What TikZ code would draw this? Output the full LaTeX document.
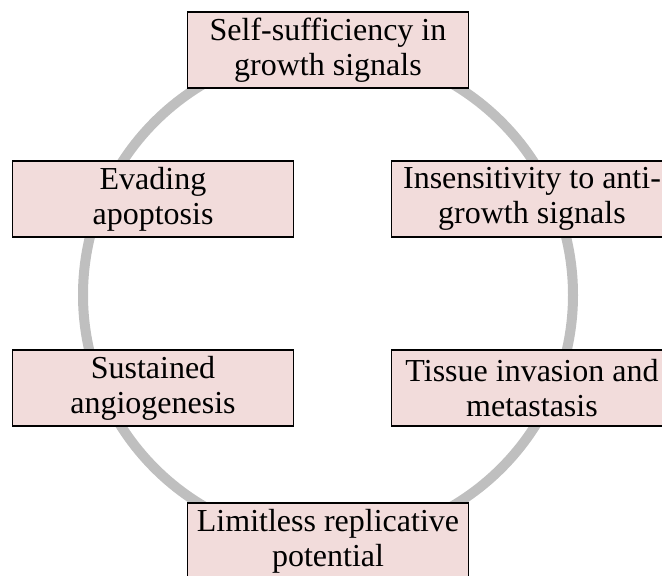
\documentclass[tikz,border=0pt]{standalone}
\usepackage{fontspec}
\setmainfont{Liberation Serif}
\definecolor{ringgray}{RGB}{191,191,191}
\definecolor{boxpink}{RGB}{242,220,219}
\tikzset{hallmark/.style={draw=black, line width=1.2pt, fill=boxpink, align=center,
    minimum width=281pt, minimum height=76pt, inner sep=2pt,
    font=\fontsize{32pt}{35pt}\selectfont}}
\begin{document}
\begin{tikzpicture}[x=1pt, y=-1pt]
\useasboundingbox (0,0) rectangle (662,576);
\clip (0,0) rectangle (662,576);

\draw[ringgray, line width = 10pt] (328,295) circle [radius=245pt];

\node[hallmark] (self) at (328,50) {Self-sufficiency in\\growth signals};
\node[hallmark] (evade) at (153,199) {Evading\\apoptosis};
\node[hallmark] (insens) at (532,199) {Insensitivity to anti-\\growth signals};
\node[hallmark] (angio) at (153,388) {Sustained\\angiogenesis};
\node[hallmark] (tissue) at (532,388) {Tissue invasion and\\metastasis};
\node[hallmark] (limit) at (328,541) {Limitless replicative\\potential};
\end{tikzpicture}
\end{document}
